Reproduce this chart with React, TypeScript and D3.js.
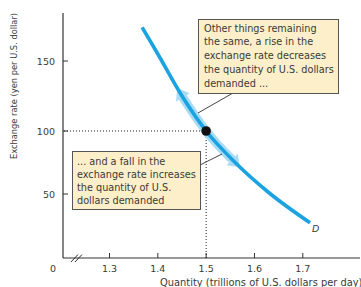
import React, { useEffect, useRef } from "react";
import * as d3 from "d3";

const curveX = [1.3675, 1.4, 1.45, 1.5, 1.56, 1.63, 1.715];
const curveY = [174, 155, 125, 100, 75, 51, 27.5];
const xTicks = [1.3, 1.4, 1.5, 1.6, 1.7];
const yTicks = [50, 100, 150];
const eqX = 1.5;
const eqY = 100;
const box1Lines = ["Other things remaining", "the same, a rise in the", "exchange rate decreases", "the quantity of U.S. dollars", "demanded ..."];
const box2Lines = ["... and a fall in the", "exchange rate increases", "the quantity of U.S.", "dollars demanded"];
const arrowUpX = 1.44;
const arrowDownX = 1.57;

const W = 361, H = 287;
const FONT = "'DejaVu Sans', sans-serif";

export default function App() {
  const ref = useRef<SVGSVGElement>(null);
  useEffect(() => {
    const svg = d3.select(ref.current);
    svg.selectAll("*").remove();
    const x = d3.scaleLinear().domain([1.3, 1.7]).range([109.5, 302.8]);
    const y = d3.scaleLinear().domain([0, 50, 100, 150]).range([258, 194, 131, 61]);
    const x0 = 63, y0 = 258;
    const axisColor = "#333";
    const textColor = "#3a3a3a";

    svg.append("line").attr("x1", x0).attr("x2", x0).attr("y1", 13).attr("y2", y0).attr("stroke", axisColor).attr("stroke-width", 1.2);
    svg.append("line").attr("x1", x0).attr("x2", 360).attr("y1", y0).attr("y2", y0).attr("stroke", axisColor).attr("stroke-width", 1.2);
    [0, 4].forEach(o => {
      svg.append("line").attr("x1", 71 + o).attr("y1", 262).attr("x2", 78 + o).attr("y2", 254.5).attr("stroke", axisColor).attr("stroke-width", 1);
    });
    xTicks.forEach(t => {
      svg.append("line").attr("x1", x(t)).attr("x2", x(t)).attr("y1", y0).attr("y2", y0 - 5).attr("stroke", axisColor);
      svg.append("text").attr("x", x(t)).attr("y", 272).attr("text-anchor", "middle").attr("font-size", 9.5).attr("font-family", FONT).attr("fill", textColor).text(t.toFixed(1));
    });
    yTicks.forEach(t => {
      svg.append("line").attr("x1", x0).attr("x2", x0 + 5).attr("y1", y(t)).attr("y2", y(t)).attr("stroke", axisColor);
      svg.append("text").attr("x", 55).attr("y", y(t) + 3.5).attr("text-anchor", "end").attr("font-size", 9.5).attr("font-family", FONT).attr("fill", textColor).text(String(t));
    });
    svg.append("text").attr("x", 53).attr("y", 272).attr("text-anchor", "middle").attr("font-size", 9.5).attr("font-family", FONT).attr("fill", textColor).text("0");

    svg.append("text").attr("transform", `translate(17,86) rotate(-90)`).attr("text-anchor", "middle").attr("font-size", 8.3).attr("font-family", FONT).attr("fill", textColor).text("Exchange rate (yen per U.S. dollar)");
    svg.append("text").attr("x", 160).attr("y", 285.5).attr("font-size", 9.9).attr("font-family", FONT).attr("fill", textColor).text("Quantity (trillions of U.S. dollars per day)");

    svg.append("line").attr("x1", x0 + 1).attr("x2", x(eqX)).attr("y1", y(eqY)).attr("y2", y(eqY)).attr("stroke", "#222").attr("stroke-width", 1).attr("stroke-dasharray", "1,2");
    svg.append("line").attr("x1", x(eqX)).attr("x2", x(eqX)).attr("y1", y(eqY)).attr("y2", y0).attr("stroke", "#222").attr("stroke-width", 1).attr("stroke-dasharray", "1,2");

    const pts: [number, number][] = curveX.map((v, i) => [x(v), y(curveY[i])]);
    const line = d3.line().curve(d3.curveMonotoneX);
    const d = line(pts) as string;

    const meas = svg.append("path").attr("d", d).attr("fill", "none").attr("stroke", "none");
    const node = meas.node() as SVGPathElement;
    const total = node.getTotalLength();
    const findLen = (px: number) => {
      let lo = 0, hi = total;
      for (let i = 0; i < 40; i++) {
        const mid = (lo + hi) / 2;
        if (node.getPointAtLength(mid).x < px) lo = mid; else hi = mid;
      }
      return (lo + hi) / 2;
    };
    const lUp = findLen(x(arrowUpX));
    const lDown = findLen(x(arrowDownX));
    const headLen = 11;
    const bandPts: [number, number][] = [];
    for (let l = lUp + headLen * 0.6; l <= lDown - headLen * 0.6; l += 1) {
      const p = node.getPointAtLength(l);
      bandPts.push([p.x, p.y]);
    }
    const bandColor = "#a9dbf5";
    svg.append("path").attr("d", d3.line()(bandPts) as string).attr("fill", "none").attr("stroke", bandColor).attr("stroke-width", 9);
    const head = (lTip: number, dir: number) => {
      const tip = node.getPointAtLength(lTip);
      const back = node.getPointAtLength(lTip + dir * headLen);
      const dx = tip.x - back.x, dy = tip.y - back.y;
      const len = Math.hypot(dx, dy);
      const ux = dx / len, uy = dy / len;
      const hw = 8;
      const pts2 = [
        [tip.x, tip.y],
        [back.x - uy * hw, back.y + ux * hw],
        [back.x + uy * hw, back.y - ux * hw],
      ];
      svg.append("polygon").attr("points", pts2.map(p => p.join(",")).join(" ")).attr("fill", bandColor);
    };
    head(lUp, 1);
    head(lDown, -1);

    svg.append("path").attr("d", d).attr("fill", "none").attr("stroke", "#1aa3e0").attr("stroke-width", 3.6).attr("stroke-linecap", "butt");
    svg.append("text").attr("x", 312).attr("y", 232).attr("font-size", 9.5).attr("font-style", "italic").attr("font-family", FONT).attr("fill", textColor).text("D");

    svg.append("circle").attr("cx", x(eqX)).attr("cy", y(eqY)).attr("r", 4.8).attr("fill", "#111");

    const boxFill = "#fcefc9", boxStroke = "#555";
    svg.append("line").attr("x1", 233).attr("y1", 93).attr("x2", 198).attr("y2", 113).attr("stroke", "#444").attr("stroke-width", 1);
    svg.append("rect").attr("x", 198.5).attr("y", 19.5).attr("width", 140).attr("height", 74).attr("fill", boxFill).attr("stroke", boxStroke).attr("stroke-width", 1);
    box1Lines.forEach((t, i) => {
      svg.append("text").attr("x", 204).attr("y", 31.5 + i * 13.8).attr("font-size", 9.7).attr("font-family", FONT).attr("fill", textColor).text(t);
    });
    svg.append("line").attr("x1", 200).attr("y1", 165).attr("x2", 222).attr("y2", 154).attr("stroke", "#444").attr("stroke-width", 1);
    svg.append("rect").attr("x", 72.5).attr("y", 151.5).attr("width", 128).attr("height", 58).attr("fill", boxFill).attr("stroke", boxStroke).attr("stroke-width", 1);
    box2Lines.forEach((t, i) => {
      svg.append("text").attr("x", 77).attr("y", 164.5 + i * 13.3).attr("font-size", 9.7).attr("font-family", FONT).attr("fill", textColor).text(t);
    });
  }, []);
  return (
    <svg ref={ref} width={W} height={H} style={{ position: "absolute", left: 0, top: 0, background: "#fff" }} />
  );
}
